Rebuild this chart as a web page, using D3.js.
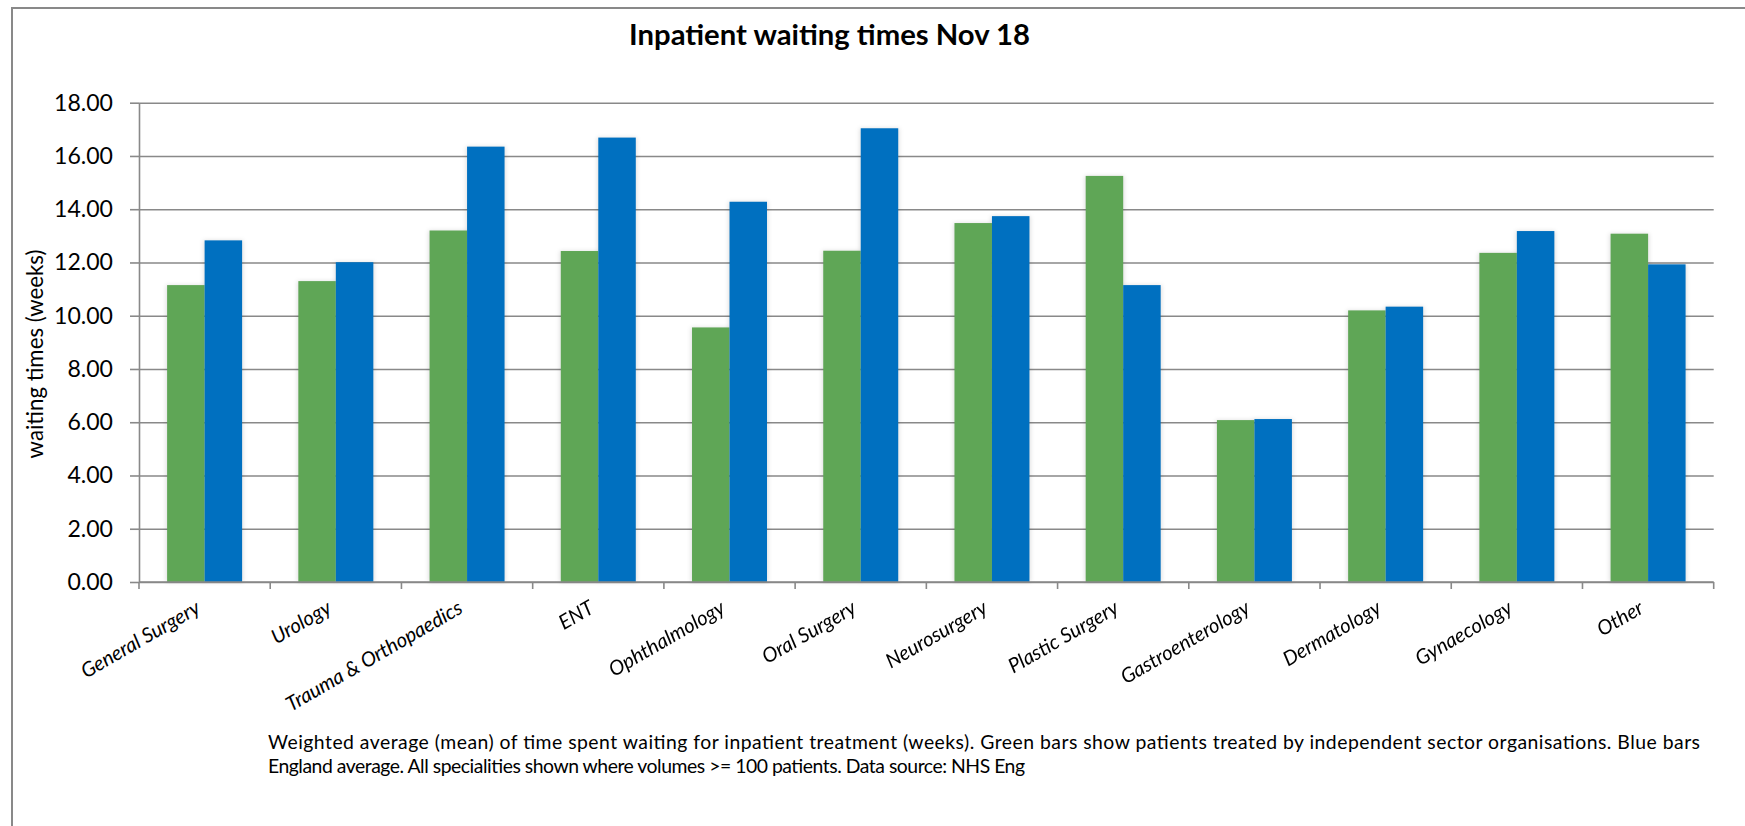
<!DOCTYPE html>
<html>
<head>
<meta charset="utf-8">
<script src="https://cdn.jsdelivr.net/npm/d3@7"></script>
<style>
  html, body { margin: 0; padding: 0; background: #fff; }
  svg { display: block; font-family: Lato, "Open Sans", sans-serif; }
</style>
</head>
<body>
<svg id="chart" width="1745" height="826"></svg>
<script>
// Specialties on the category axis
const categories = [
  "General Surgery", "Urology", "Trauma & Orthopaedics", "ENT", "Ophthalmology",
  "Oral Surgery", "Neurosurgery", "Plastic Surgery", "Gastroenterology",
  "Dermatology", "Gynaecology", "Other"
];
// Mean wait (weeks), patients treated by independent sector organisations
const independentSector = [11.15, 11.30, 13.20, 12.43, 9.56, 12.44, 13.48, 15.25, 6.08, 10.20, 12.36, 13.08];
// Mean wait (weeks), England average
const englandAverage = [12.83, 12.01, 16.35, 16.69, 14.28, 17.04, 13.74, 11.15, 6.12, 10.34, 13.18, 11.93];
const seriesKeys = ["independent", "england"];
const seriesColors = ["#5fa656", "#0070c0"];
const yTicks = [0, 2, 4, 6, 8, 10, 12, 14, 16, 18];
const titleText = "Inpatient waiting times Nov 18";
const yTitleText = "waiting times (weeks)";
const footnoteLines = [
  "Weighted average (mean) of time spent waiting for inpatient treatment (weeks). Green bars show patients treated by independent sector organisations. Blue bars",
  "England average. All specialities shown where volumes >= 100 patients. Data source: NHS Eng"
];

const W = 1745, H = 826;
const plot = { left: 139, right: 1713.7, top: 102.7, bottom: 582 };
const gray = "#898989";

const svg = d3.select("#chart");

// Outer chart frame (continues past the right and bottom edges)
svg.append("rect")
  .attr("x", 12).attr("y", 8)
  .attr("width", W + 40).attr("height", H + 40)
  .attr("fill", "#fff").attr("stroke", gray).attr("stroke-width", 2);

const x = d3.scaleBand().domain(categories).range([plot.left, plot.right]).padding(0);
const x1 = d3.scaleBand().domain(seriesKeys).range([0, x.bandwidth()])
  .paddingInner(0).paddingOuter(0.75);
const y = d3.scaleLinear().domain([0, 18]).range([plot.bottom, plot.top]);

// Horizontal gridlines
const grid = svg.append("g")
  .attr("transform", `translate(${plot.left},0)`)
  .call(d3.axisLeft(y).tickValues(yTicks).tickSize(-(plot.right - plot.left)).tickFormat(""));
grid.select(".domain").remove();
grid.selectAll("line").attr("stroke", gray).attr("stroke-width", 1.6);

// Bar data grouped by specialty
const groups = categories.map((c, i) => ({
  category: c,
  values: [
    { key: seriesKeys[0], value: independentSector[i], color: seriesColors[0] },
    { key: seriesKeys[1], value: englandAverage[i], color: seriesColors[1] }
  ]
}));

// Soft shadow behind the bars
const defs = svg.append("defs");
defs.append("filter").attr("id", "barShadow")
  .attr("x", "-50%").attr("y", "-10%").attr("width", "200%").attr("height", "120%")
  .append("feGaussianBlur").attr("stdDeviation", 2.2);

const shadowLayer = svg.append("g").attr("filter", "url(#barShadow)");
shadowLayer.selectAll("g").data(groups).join("g")
  .attr("transform", d => `translate(${x(d.category)},0)`)
  .selectAll("rect").data(d => d.values).join("rect")
  .attr("x", d => x1(d.key) - 1)
  .attr("width", x1.bandwidth() + 2)
  .attr("y", d => y(d.value))
  .attr("height", d => y(0) - y(d.value))
  .attr("fill", "#000").attr("fill-opacity", 0.13);

// Bars
const barLayer = svg.append("g");
barLayer.selectAll("g").data(groups).join("g")
  .attr("transform", d => `translate(${x(d.category)},0)`)
  .selectAll("rect").data(d => d.values).join("rect")
  .attr("x", d => x1(d.key))
  .attr("width", x1.bandwidth())
  .attr("y", d => y(d.value))
  .attr("height", d => y(0) - y(d.value))
  .attr("fill", d => d.color);

// Value axis
const yAxis = svg.append("g")
  .attr("transform", `translate(${plot.left},0)`)
  .call(d3.axisLeft(y).tickValues(yTicks).tickSize(9).tickSizeOuter(0).tickPadding(17)
    .tickFormat(d3.format(".2f")));
yAxis.select(".domain").attr("stroke", gray).attr("stroke-width", 1.6);
yAxis.selectAll(".tick line").attr("stroke", gray).attr("stroke-width", 1.6);
yAxis.selectAll(".tick text")
  .attr("fill", "#000").attr("font-size", 23).attr("font-family", "Lato, sans-serif");

// Category axis: baseline with tick marks between specialties
const xAxis = svg.append("g");
xAxis.append("line")
  .attr("x1", plot.left).attr("x2", plot.right)
  .attr("y1", y(0)).attr("y2", y(0))
  .attr("stroke", gray).attr("stroke-width", 1.6);
const boundaries = d3.range(categories.length + 1).map(i => plot.left + i * x.step());
xAxis.selectAll("line.tick").data(boundaries).join("line")
  .attr("class", "tick")
  .attr("x1", d => d).attr("x2", d => d)
  .attr("y1", y(0)).attr("y2", y(0) + 7)
  .attr("stroke", gray).attr("stroke-width", 1.6);

const xLabels = xAxis.selectAll("text").data(categories).join("text")
  .attr("transform", d => `translate(${x(d) + x.bandwidth() / 2 - 3},${y(0) + 30}) rotate(-30)`)
  .attr("text-anchor", "end")
  .attr("font-style", "italic")
  .attr("font-size", 19)
  .attr("fill", "#000")
  .text(d => d);

// Title
const title = svg.append("text")
  .attr("x", 829.5).attr("y", 45)
  .attr("text-anchor", "middle")
  .attr("font-weight", "bold").attr("font-size", 28)
  .attr("fill", "#000")
  .text(titleText);

// Value axis title
const yTitle = svg.append("text")
  .attr("transform", `translate(43,354) rotate(-90)`)
  .attr("text-anchor", "middle")
  .attr("font-size", 21)
  .attr("fill", "#000")
  .text(yTitleText);

// Footnote
const footnote = svg.append("g");
const fnLines = footnote.selectAll("text").data(footnoteLines).join("text")
  .attr("x", 268)
  .attr("y", (d, i) => 749 + i * 24)
  .attr("font-size", 17.5)
  .attr("fill", "#000")
  .text(d => d);

// Size text so its rendered width matches the intended span
function fitWidth(sel, target) {
  const w = sel.node().getComputedTextLength();
  const fs = parseFloat(sel.attr("font-size"));
  return fs * target / w;
}
title.attr("font-size", fitWidth(title, 401));
yTitle.attr("font-size", fitWidth(yTitle, 209));

// Footnote lines share one size; spacing absorbs the remaining width difference
const fnTargets = [1432, 757];
const fnSizes = fnLines.nodes().map((n, i) => fitWidth(d3.select(n), fnTargets[i]));
const fnSize = d3.mean(fnSizes);
fnLines.attr("font-size", fnSize)
  .attr("textLength", (d, i) => fnTargets[i])
  .attr("lengthAdjust", "spacing");

const xSize = fitWidth(xLabels.filter(d => d === "Trauma & Orthopaedics"), 200);
xLabels.attr("font-size", xSize);
const tickTexts = yAxis.selectAll(".tick text");
const tSize = fitWidth(tickTexts.filter(d => d === 18), 59);
tickTexts.attr("font-size", tSize);
</script>
</body>
</html>
